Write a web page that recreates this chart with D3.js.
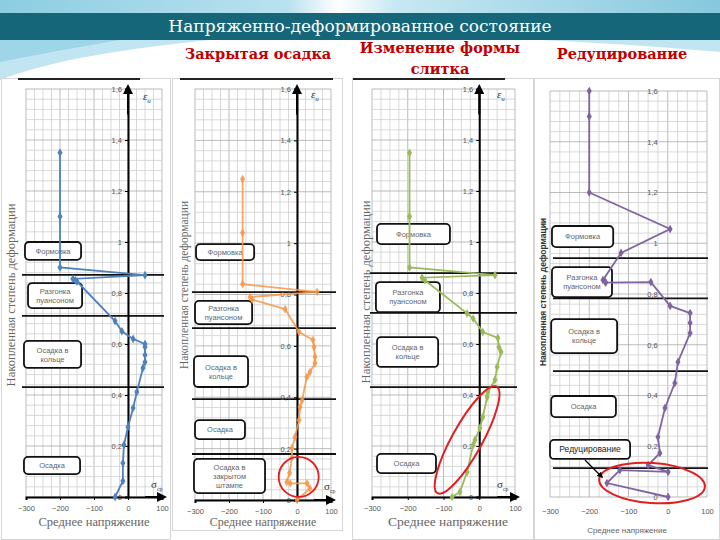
<!DOCTYPE html>
<html>
<head>
<meta charset="utf-8">
<script src="https://cdn.jsdelivr.net/npm/d3@7"></script>
<style>
body{margin:0;background:#fff;}
svg{display:block;}
</style>
</head>
<body>
<div id="chart"></div>
<script>
// tick labels
var xTicks = [-300, -200, -100, 0, 100];
var yTicks = [0, 0.2, 0.4, 0.6, 0.8, 1, 1.2, 1.4, 1.6];

// panel 1 (без подписи) - sigma / eps
var baseX = [-200,-200,-200,50,-162,-155,-150,-38,-18,15,50,50,50,50,44,26,15,0,-12,-15,-15,-38];
var baseY = [1.35,1.10,0.90,0.87,0.855,0.85,0.845,0.69,0.65,0.62,0.60,0.588,0.557,0.529,0.506,0.412,0.349,0.275,0.204,0.133,0.063,0];
var baseSeps = [0.871, 0.71, 0.431];
var baseStages = ["Формовка", "Разгонка|пуансоном", "Осадка в|кольце", "Осадка"];

// panel 2 - Закрытая осадка
var closedX = [-160,-160,-160,59,-138,-132,-35,6,47,50,53,53,38,29,15,9,6,-6,-15,-15,-22,-30,-20,30,38,0];
var closedY = [1.25,1.04,0.84,0.81,0.79,0.78,0.743,0.654,0.623,0.596,0.557,0.533,0.498,0.479,0.389,0.362,0.311,0.245,0.202,0.167,0.105,0.07,0.065,0.065,0.045,0];
var closedSeps = [0.809, 0.669, 0.393, 0.179];
var closedStages = ["Формовка", "Разгонка|пуансоном", "Осадка в|кольце", "Осадка", "Осадка в|закрытом|штампе"];

// panel 3 - Изменение формы слитка
var shapeX = [-195,-195,-195,44,-160,-152,-34,-17,10,52,55,61,50,44,24,22,10,2,-12,-17,-34,-54,-76];
var shapeY = [1.35,1.10,0.90,0.87,0.86,0.85,0.72,0.70,0.647,0.624,0.588,0.569,0.51,0.459,0.412,0.392,0.314,0.271,0.224,0.204,0.098,0.02,0];
var shapeSeps = [0.878, 0.722, 0.431];
var shapeStages = ["Формовка", "Разгонка|пуансоном", "Осадка в|кольце", "Осадка"];

// panel 4 - Редуцирование
var reduceX = [-200,-200,-200,6,-119,-165,-160,-158,-43,6,57,57,57,26,18,-7,-25,-20,-50,1,-122,-155,1];
var reduceY = [1.6,1.5,1.2,1.056,0.962,0.855,0.85,0.845,0.847,0.753,0.725,0.686,0.646,0.532,0.449,0.351,0.236,0.173,0.126,0.099,0.106,0.055,0];
var reduceSeps = [0.941, 0.783, 0.496, 0.114];
var reduceStages = ["Формовка", "Разгонка|пуансоном", "Осадка в|кольце", "Осадка", "Редуцирование"];

var W = 720, H = 540;
var serif = "'Liberation Serif', 'DejaVu Serif', serif";
var sans = "'Liberation Sans', Arial, sans-serif";

var svg = d3.select("#chart").append("svg")
    .attr("width", W)
    .attr("height", H);

var defs = svg.append("defs");
defs.append("marker")
    .attr("id", "arr")
    .attr("viewBox", "0 0 10 10")
    .attr("refX", 8).attr("refY", 5)
    .attr("markerWidth", 5).attr("markerHeight", 5)
    .attr("orient", "auto")
  .append("path")
    .attr("d", "M0,0L10,5L0,10z")
    .attr("fill", "#000");

var sky = defs.append("linearGradient").attr("id", "sky").attr("x1", 0).attr("x2", 1);
[["0", "#8ccde2"], ["0.4", "#b9e2ef"], ["0.47", "#ffffff"], ["0.55", "#c6e8f2"], ["1", "#86c8de"]]
    .forEach(function(s){ sky.append("stop").attr("offset", s[0]).attr("stop-color", s[1]); });

// decoration at top
svg.append("rect").attr("width", W).attr("height", 14).attr("fill", "url(#sky)");
svg.append("path")
    .attr("d", "M0,40 L210,40 Q130,48 70,60 Q25,70 0,80 Z")
    .attr("fill", "#c2e6f1");
svg.append("path")
    .attr("d", "M0,40 L120,40 Q60,50 0,62 Z")
    .attr("fill", "#9fd6e7");
svg.append("path")
    .attr("d", "M540,40 L720,40 L720,52 Q630,44 540,40 Z")
    .attr("fill", "#c2e6f1");

// title band
svg.append("rect")
    .attr("y", 13).attr("width", W).attr("height", 27)
    .attr("fill", "#16667a");
svg.append("text")
    .attr("x", 360).attr("y", 32)
    .attr("text-anchor", "middle")
    .attr("fill", "#fff")
    .style("font-family", "'DejaVu Serif', serif")
    .style("font-size", "17px")
    .text("Напряженно-деформированное состояние");

// subtitles
var subs = [["Закрытая осадка", 258, 59], ["Изменение формы", 440, 53], ["слитка", 440, 74], ["Редуцирование", 622, 59]];
svg.selectAll(".sub").data(subs).enter().append("text")
    .attr("class", "sub")
    .attr("x", function(d){ return d[1]; })
    .attr("y", function(d){ return d[2]; })
    .attr("text-anchor", "middle")
    .attr("fill", "#c00000")
    .style("font-family", "'DejaVu Serif', serif")
    .style("font-weight", "bold")
    .style("font-size", "14.5px")
    .text(function(d){ return d[0]; });

// panel frames
var frames = [[1, 78, 169, 461], [172, 78, 170, 452], [352, 78, 181, 461], [534, 78, 185, 461]];
svg.selectAll(".frame").data(frames).enter().append("rect")
    .attr("x", function(d){ return d[0] + 0.5; })
    .attr("y", function(d){ return d[1] + 0.5; })
    .attr("width", function(d){ return d[2]; })
    .attr("height", function(d){ return d[3]; })
    .attr("fill", "#fff")
    .attr("stroke", "#d6d6d6");
// dark top rules
var rules = [[18, 140], [180, 333], [353, 505]];
svg.selectAll(".rule").data(rules).enter().append("line")
    .attr("x1", function(d){ return d[0]; })
    .attr("x2", function(d){ return d[1]; })
    .attr("y1", 79).attr("y2", 79)
    .attr("stroke", "#222").attr("stroke-width", 2);

var fmt = function(d){ return String(d).replace(".", ","); };

var panels = [
  {xs: baseX, ys: baseY, seps: baseSeps, stages: baseStages, color: "#4f81bd", op: 1,
   x0: 26, x1: 162, yTop: 89, yBot: 497, sepX: [22, 164], axes: true,
   boxes: [[-303,-138,0.93,1.0],[-294,-135,0.741,0.839],[-306,-138,0.506,0.612],[-306,-141,0.09,0.157]],
   yTitle: [11, 295, 12.5], xTitle: [94, 526, 12.5], eps: [143, 100], sig: [151, 488]},
  {xs: closedX, ys: closedY, seps: closedSeps, stages: closedStages, color: "#f79646", op: 0.85,
   x0: 195, x1: 331, yTop: 89, yBot: 500, sepX: [192, 336], axes: true,
   boxes: [[-297,-126,0.934,0.996],[-300,-132,0.685,0.775],[-303,-144,0.44,0.56],[-300,-153,0.237,0.311],[-303,-94,0.027,0.16]],
   yTitle: [184, 285, 11.5], xTitle: [263, 526, 12], eps: [311, 98], sig: [324, 490],
   circle: [5, 0.09, 20]},
  {xs: shapeX, ys: shapeY, seps: shapeSeps, stages: shapeStages, color: "#9bbb59", op: 1,
   x0: 372, x1: 515, yTop: 89, yBot: 497, sepX: [370, 517], axes: true,
   boxes: [[-286,-82,0.992,1.071],[-289,-110,0.725,0.843],[-286,-115,0.51,0.627],[-286,-121,0.094,0.169]],
   yTitle: [366, 292, 12.5], xTitle: [448, 526, 13.5], eps: [497, 98], sig: [497, 488],
   ellipse: [-34, 0.224, 61, 15, -61]},
  {xs: reduceX, ys: reduceY, seps: reduceSeps, stages: reduceStages, color: "#8064a2", op: 1,
   x0: 550, x1: 707, yTop: 91, yBot: 497, sepX: [553, 708], axes: false,
   boxes: [[-295,-139,0.985,1.068],[-295,-142,0.788,0.906],[-297,-129,0.567,0.701],[-297,-132,0.315,0.398],[-300,-96,0.15,0.225]],
   yTitle: [543, 292, 8.5], xTitle: [627, 533, 8],
   ellipse: [-40, 0.055, 53, 20, 4], arrow: [-211, 0.146, -167, 0.078]}
];

panels.forEach(function(p, pi){
    var x = d3.scaleLinear().domain([-300, 100]).range([p.x0, p.x1]);
    var y = d3.scaleLinear().domain([0, 1.6]).range([p.yBot, p.yTop]);
    var g = svg.append("g");

    // grid
    g.selectAll(".vg").data(d3.range(-300, 101, 25)).enter().append("line")
        .attr("x1", function(d){ return x(d); })
        .attr("x2", function(d){ return x(d); })
        .attr("y1", y(0)).attr("y2", y(1.6))
        .attr("stroke", function(d){ return d % 100 === 0 ? "#aaa" : "#cfcfcf"; })
        .attr("stroke-width", 0.8);
    g.selectAll(".hg").data(d3.range(0, 41)).enter().append("line")
        .attr("x1", x(-300)).attr("x2", x(100))
        .attr("y1", function(d){ return y(d * 0.04); })
        .attr("y2", function(d){ return y(d * 0.04); })
        .attr("stroke", function(d){ return d % 5 === 0 ? "#aaa" : "#cfcfcf"; })
        .attr("stroke-width", 0.8);

    // stage separators
    g.selectAll(".sep").data(p.seps).enter().append("line")
        .attr("x1", p.sepX[0]).attr("x2", p.sepX[1])
        .attr("y1", function(d){ return y(d); })
        .attr("y2", function(d){ return y(d); })
        .attr("stroke", "#111").attr("stroke-width", 1.8);

    // axes
    var ya = d3.axisLeft(y).tickValues(yTicks).tickFormat(fmt).tickSizeOuter(0);
    var xa = d3.axisBottom(x).tickValues(xTicks).tickSizeOuter(0);
    var yg = g.append("g").attr("transform", "translate(" + x(0) + ",0)");
    var xg = g.append("g").attr("transform", "translate(0," + y(0) + ")");
    if (p.axes) {
        yg.call(ya.tickSize(3).tickPadding(3));
        xg.call(xa.tickSize(3).tickPadding(6));
        yg.select(".domain").attr("stroke", "#000").attr("stroke-width", 2);
        xg.select(".domain").attr("stroke", "#000").attr("stroke-width", 2);
        g.append("line")
            .attr("x1", x(0)).attr("x2", x(0))
            .attr("y1", y(1.5)).attr("y2", y(1.6) - 3)
            .attr("stroke", "#000").attr("stroke-width", 2)
            .attr("marker-end", "url(#arr)");
        g.append("line")
            .attr("x1", x(50)).attr("x2", x(100) + 3)
            .attr("y1", y(0)).attr("y2", y(0))
            .attr("stroke", "#000").attr("stroke-width", 2)
            .attr("marker-end", "url(#arr)");
    } else {
        yg.call(ya.tickSize(0).tickPadding(10));
        xg.call(xa.tickSize(0).tickPadding(12));
        yg.select(".domain").remove();
        xg.select(".domain").remove();
    }
    g.selectAll(".tick text")
        .attr("fill", "#555")
        .style("font-family", sans)
        .style("font-size", "7.5px");

    // stage boxes
    var bx = g.selectAll(".box").data(p.stages).enter().append("g");
    bx.append("rect")
        .attr("x", function(d, i){ return x(p.boxes[i][0]); })
        .attr("y", function(d, i){ return y(p.boxes[i][3]); })
        .attr("width", function(d, i){ return x(p.boxes[i][1]) - x(p.boxes[i][0]); })
        .attr("height", function(d, i){ return y(p.boxes[i][2]) - y(p.boxes[i][3]); })
        .attr("rx", 4)
        .attr("fill", "#fff")
        .attr("stroke", "#111")
        .attr("stroke-width", 1.8);
    bx.each(function(d, i){
        var b = p.boxes[i];
        var lines = d.split("|");
        var isRed = (d === "Редуцирование");
        var fs = isRed ? 8.5 : 7.5;
        var cy = (y(b[2]) + y(b[3])) / 2;
        var t = d3.select(this).append("text")
            .attr("text-anchor", "middle")
            .attr("fill", isRed ? "#222" : "#666")
            .style("font-family", sans)
            .style("font-size", fs + "px");
        lines.forEach(function(l, k){
            t.append("tspan")
                .attr("x", (x(b[0]) + x(b[1])) / 2)
                .attr("y", cy + (k - (lines.length - 1) / 2) * (fs + 1.5) + fs * 0.35)
                .text(l);
        });
    });

    // data line
    var idx = d3.range(p.xs.length);
    var line = d3.line()
        .x(function(i){ return x(p.xs[i]); })
        .y(function(i){ return y(p.ys[i]); });
    g.append("path")
        .datum(idx)
        .attr("d", line)
        .attr("fill", "none")
        .attr("stroke", p.color)
        .attr("stroke-opacity", p.op)
        .attr("stroke-width", 1.8);
    g.selectAll(".pt").data(idx).enter().append("path")
        .attr("transform", function(i){ return "translate(" + x(p.xs[i]) + "," + y(p.ys[i]) + ")"; })
        .attr("d", d3.symbol(d3.symbolDiamond).size(22))
        .attr("fill", p.color)
        .attr("fill-opacity", p.op);

    // highlights
    if (p.circle) {
        g.append("circle")
            .attr("cx", x(p.circle[0])).attr("cy", y(p.circle[1]))
            .attr("r", p.circle[2])
            .attr("fill", "none").attr("stroke", "#e02020").attr("stroke-width", 1.8);
    }
    if (p.ellipse) {
        var e = p.ellipse;
        g.append("ellipse")
            .attr("transform", "translate(" + x(e[0]) + "," + y(e[1]) + ") rotate(" + e[4] + ")")
            .attr("rx", e[2]).attr("ry", e[3])
            .attr("fill", "none").attr("stroke", "#e02020").attr("stroke-width", 2);
    }
    if (p.arrow) {
        g.append("line")
            .attr("x1", x(p.arrow[0])).attr("y1", y(p.arrow[1]))
            .attr("x2", x(p.arrow[2])).attr("y2", y(p.arrow[3]))
            .attr("stroke", "#000").attr("stroke-width", 1.2)
            .attr("marker-end", "url(#arr)");
    }

    // axis titles
    g.append("text")
        .attr("transform", "translate(" + p.yTitle[0] + "," + p.yTitle[1] + ") rotate(-90)")
        .attr("text-anchor", "middle")
        .attr("dy", "0.35em")
        .attr("fill", pi === 3 ? "#333" : "#666")
        .style("font-family", pi === 3 ? sans : serif)
        .style("font-weight", pi === 3 ? "bold" : "normal")
        .style("font-size", p.yTitle[2] + "px")
        .text("Накопленная степень деформации");
    g.append("text")
        .attr("x", p.xTitle[0]).attr("y", p.xTitle[1])
        .attr("text-anchor", "middle")
        .attr("fill", "#666")
        .style("font-family", pi === 3 ? sans : serif)
        .style("font-size", p.xTitle[2] + "px")
        .text("Среднее напряжение");

    if (p.eps) {
        var et = g.append("text")
            .attr("x", p.eps[0]).attr("y", p.eps[1])
            .attr("fill", "#333")
            .style("font-family", serif)
            .style("font-style", "italic")
            .style("font-size", "11px");
        et.append("tspan").text("ε");
        et.append("tspan").attr("dy", 3).style("font-size", "7px").text("и");
        var st = g.append("text")
            .attr("x", p.sig[0]).attr("y", p.sig[1])
            .attr("fill", "#333")
            .style("font-family", serif)
            .style("font-size", "11px");
        st.append("tspan").text("σ");
        st.append("tspan").attr("dy", 3).style("font-size", "6px").text("ср");
    }
});
</script>
</body>
</html>
